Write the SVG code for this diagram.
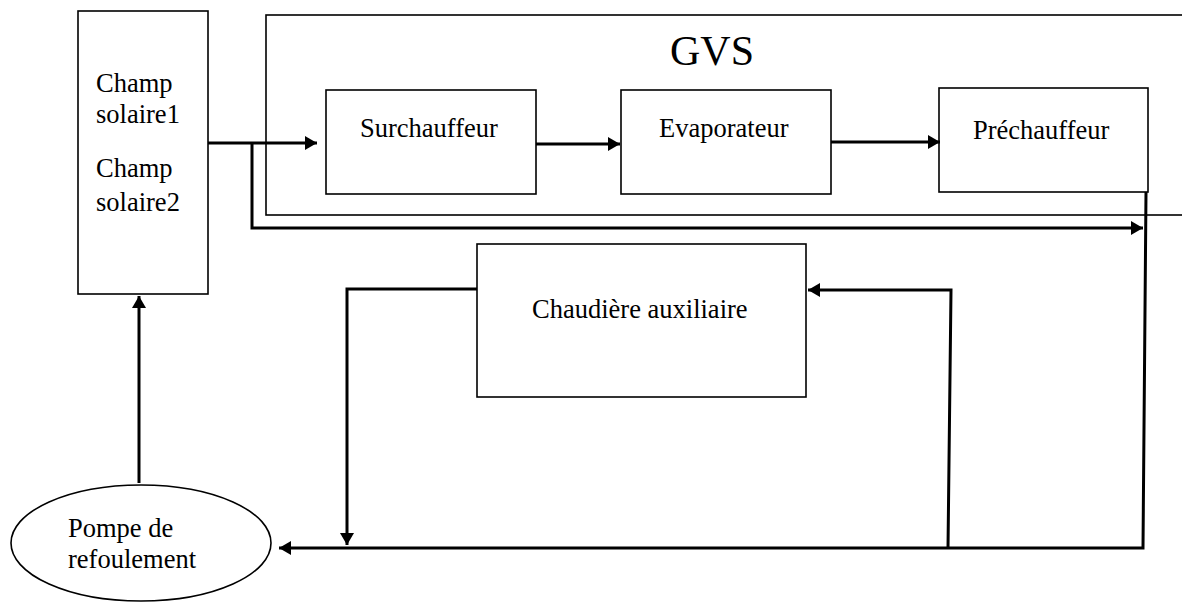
<svg xmlns="http://www.w3.org/2000/svg" width="1182" height="602" viewBox="0 0 1182 602">
<style>
.box{fill:#fff;stroke:#000;stroke-width:1.6}
.lbl{font-family:"Liberation Serif","Times New Roman",serif;font-size:26.5px;fill:#000}
.title{font-family:"Liberation Serif","Times New Roman",serif;font-size:42px;fill:#000}
.wire{fill:none;stroke:#000;stroke-width:3;stroke-linejoin:miter}
.arr{fill:none;stroke:#000;stroke-width:3;marker-end:url(#ah)}
</style>
<defs>
<marker id="ah" markerUnits="userSpaceOnUse" markerWidth="14" markerHeight="16" refX="12" refY="7" orient="auto">
<path d="M0,0 L12,7 L0,14 z" fill="#000"/>
</marker>
</defs>
<rect width="1182" height="602" fill="#fff"/>
<g id="gvs">
<rect class="box" x="266" y="15" width="930" height="200"/>
<text class="title" x="670" y="65">GVS</text>
</g>
<g id="champ">
<rect class="box" x="78" y="11" width="130" height="283"/>
<text class="lbl" x="96" y="92">Champ</text>
<text class="lbl" x="96" y="123">solaire1</text>
<text class="lbl" x="96" y="177">Champ</text>
<text class="lbl" x="96" y="211">solaire2</text>
</g>
<g id="surchauffeur">
<rect class="box" x="326" y="90" width="210" height="104"/>
<text class="lbl" x="360" y="137">Surchauffeur</text>
</g>
<g id="evaporateur">
<rect class="box" x="621" y="90" width="210" height="104"/>
<text class="lbl" x="659" y="137">Evaporateur</text>
</g>
<g id="prechauffeur">
<rect class="box" x="939" y="88" width="209" height="104"/>
<text class="lbl" x="973" y="139">Préchauffeur</text>
</g>
<g id="chaudiere">
<rect class="box" x="477" y="244" width="329" height="153"/>
<text class="lbl" x="532" y="318">Chaudière auxiliaire</text>
</g>
<g id="pompe">
<ellipse class="box" cx="141" cy="543" rx="130" ry="58" stroke-width="1.3"/>
<text class="lbl" x="68" y="537">Pompe de</text>
<text class="lbl" x="68" y="568">refoulement</text>
</g>
<g id="connectors">
<path class="arr" d="M208,143 H317"/>
<path class="arr" d="M252,143 V228 H1143"/>
<path class="arr" d="M536,144 H620"/>
<path class="arr" d="M831,142 H940"/>
<path class="wire" d="M1146,192 L1143,548 H949"/>
<path class="arr" d="M949,548 H279"/>
<path class="arr" d="M948,548 L951,290 H808"/>
<path class="arr" d="M477,289 H347 V545"/>
<path class="arr" d="M139,483 V296"/>
</g>
</svg>
